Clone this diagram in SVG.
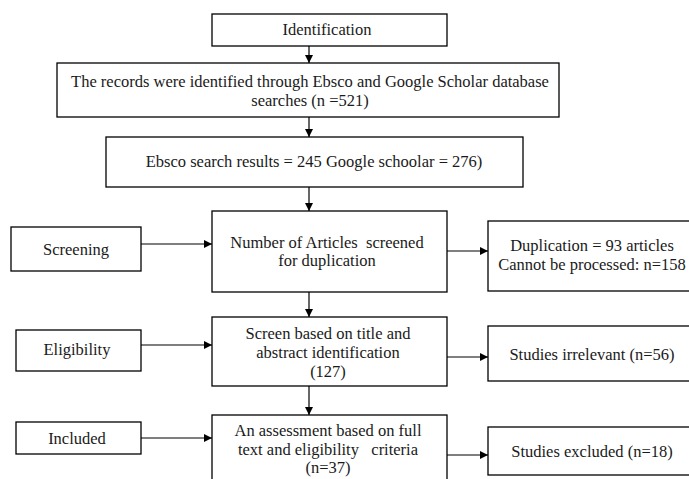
<svg xmlns="http://www.w3.org/2000/svg" width="689" height="479" viewBox="0 0 689 479">
<style>
rect{fill:#fff;stroke:#000;stroke-width:1.3}
text{font-family:"Liberation Serif","Times New Roman",serif;font-size:16.5px;fill:#1a1a1a;text-anchor:middle;white-space:pre}
.c line{stroke:#000;stroke-width:1.2}
</style>
<defs>
<marker id="ah" viewBox="0 0 10 10" refX="10" refY="5" markerWidth="8" markerHeight="8" markerUnits="userSpaceOnUse" orient="auto">
<path d="M0,0 L10,5 L0,10 z" fill="#000"/>
</marker>
</defs>
<rect width="689" height="479" style="stroke:none"/>
<g id="identification"><rect x="212" y="14" width="235" height="32"/><text x="327" y="35">Identification</text></g>
<g id="records"><rect x="57" y="63" width="502" height="54"/><text x="310" y="87">The records were identified through Ebsco and Google Scholar database</text><text x="310" y="106">searches (n =521)</text></g>
<g id="ebsco"><rect x="106" y="137" width="417" height="50"/><text x="314" y="167">Ebsco search results = 245 Google schoolar = 276)</text></g>
<g id="screening"><rect x="11" y="227" width="130" height="44"/><text x="76" y="255">Screening</text></g>
<g id="number"><rect x="212" y="211" width="235" height="81"/><text x="327" y="248">Number of Articles  screened</text><text x="327" y="266">for duplication</text></g>
<g id="duplication"><rect x="488" y="221" width="210" height="70"/><text x="592" y="251">Duplication = 93 articles</text><text x="592" y="270">Cannot be processed: n=158</text></g>
<g id="eligibility"><rect x="16" y="330" width="125" height="41"/><text x="77" y="355">Eligibility</text></g>
<g id="screen"><rect x="212" y="317" width="235" height="69"/><text x="328" y="339">Screen based on title and</text><text x="328" y="358">abstract identification</text><text x="328" y="377">(127)</text></g>
<g id="irrelevant"><rect x="488" y="326" width="210" height="55"/><text x="592" y="360">Studies irrelevant (n=56)</text></g>
<g id="included"><rect x="16" y="422" width="125" height="32"/><text x="77" y="444">Included</text></g>
<g id="assessment"><rect x="212" y="415" width="235" height="80"/><text x="328" y="436">An assessment based on full</text><text x="328" y="454.5">text and eligibility   criteria</text><text x="328" y="473">(n=37)</text></g>
<g id="excluded"><rect x="488" y="427" width="210" height="48"/><text x="592" y="457">Studies excluded (n=18)</text></g>
<g class="c" id="connectors">
<line x1="309" y1="46" x2="309" y2="63" marker-end="url(#ah)"/>
<line x1="309" y1="117" x2="309" y2="137" marker-end="url(#ah)"/>
<line x1="309" y1="187" x2="309" y2="211" marker-end="url(#ah)"/>
<line x1="309" y1="292" x2="309" y2="317" marker-end="url(#ah)"/>
<line x1="309" y1="386" x2="309" y2="415" marker-end="url(#ah)"/>
<line x1="141" y1="244" x2="212" y2="244" marker-end="url(#ah)"/>
<line x1="141" y1="345" x2="212" y2="345" marker-end="url(#ah)"/>
<line x1="141" y1="438" x2="212" y2="438" marker-end="url(#ah)"/>
<line x1="447" y1="251" x2="488" y2="251" marker-end="url(#ah)"/>
<line x1="447" y1="357" x2="488" y2="357" marker-end="url(#ah)"/>
<line x1="447" y1="455" x2="488" y2="455" marker-end="url(#ah)"/>
</g>
</svg>
